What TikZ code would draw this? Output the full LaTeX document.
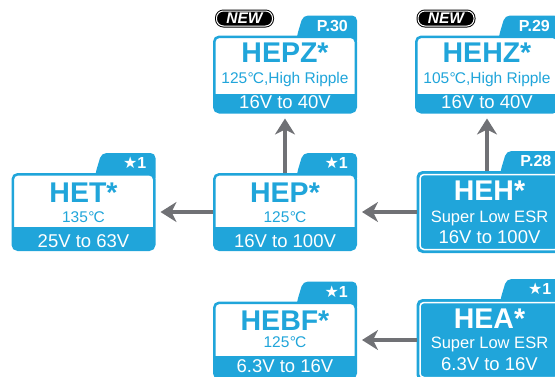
\documentclass[tikz,border=0pt]{standalone}
\usepackage{fontspec}
\setmainfont{Liberation Sans}
\newfontfamily\symf{DejaVu Sans}
\usetikzlibrary{arrows.meta,backgrounds}
\definecolor{hblue}{RGB}{32,165,218}
\definecolor{hgray}{RGB}{112,113,117}
\newcommand{\degC}{\kern0.3pt°\kern-0.8pt C}
\tikzstyle{card} = [rectangle, draw=hblue, line width=2.5pt, fill=white, rounded corners=5pt,
minimum width=141.5pt, minimum height=75.5pt, inner sep=0pt]
\tikzstyle{fcard} = [card, fill=hblue, minimum width=143.5pt, minimum height=79.5pt]
\tikzstyle{ttl} = [anchor=base, inner sep=0pt, text=hblue, font=\fontsize{28.5}{28.5}\selectfont\bfseries]
\tikzstyle{fttl} = [ttl, text=white]
\tikzstyle{subt} = [anchor=base, inner sep=0pt, text=hblue, font=\fontsize{15.5}{15.5}\selectfont]
\tikzstyle{fsubt} = [subt, text=white, font=\fontsize{16.5}{16.5}\selectfont]
\tikzstyle{volts} = [anchor=base, inner sep=0pt, text=white, font=\fontsize{18.5}{18.5}\selectfont]
\tikzstyle{tabtext} = [anchor=east, inner sep=0pt, text=white, font=\fontsize{16}{16}\selectfont\bfseries]
\tikzstyle{tabfill} = [fill=hblue, rounded corners=5pt]
\tikzstyle{bandfill} = [fill=hblue]
\tikzstyle{rim} = [draw=white, line width=1.5pt, rounded corners=4pt]
\tikzstyle{newbadge} = [rectangle, rounded corners=7pt, fill=black, draw=black, double=white,
double distance=1pt, line width=1pt, minimum width=56pt, minimum height=15pt, inner sep=0pt,
text=white, font=\fontsize{15.5}{15.5}\selectfont\bfseries\itshape]
\tikzstyle{line} = [draw=hgray, line width=4.5pt, -{Stealth[length=16pt,width=20pt,inset=5pt]}, shorten >=5pt]

\begin{document}
\begin{tikzpicture}[x=1pt,y=-1pt]
   \useasboundingbox (0,0) rectangle (555,376);

   % boxes
   \node[card]  (hepz) at (285,74.5) {};
   \node[card]  (hehz) at (487,74.5) {};
   \node[card]  (het)  at (83.5,212) {};
   \node[card]  (hep)  at (285,212) {};
   \node[fcard] (heh)  at (489.5,212) {};
   \node[card]  (hebf) at (285,340.5) {};
   \node[fcard] (hea)  at (489.5,340) {};

   % tabs behind the boxes
   \begin{scope}[on background layer]
   \fill[tabfill] ([xshift=-61pt,yshift=-10pt]hepz.north east) -- ++(1,-10) -- ++(6,-20) -- ++(54,0) -- ++(0,30) -- cycle;
   \fill[tabfill] ([xshift=-61pt,yshift=-10pt]hehz.north east) -- ++(1,-10) -- ++(6,-20) -- ++(54,0) -- ++(0,30) -- cycle;
   \fill[tabfill] ([xshift=-61pt,yshift=-10pt]het.north east) -- ++(1,-10) -- ++(6,-20) -- ++(54,0) -- ++(0,30) -- cycle;
   \fill[tabfill] ([xshift=-61pt,yshift=-10pt]hep.north east) -- ++(1,-10) -- ++(6,-20) -- ++(54,0) -- ++(0,30) -- cycle;
   \fill[tabfill] ([xshift=-63pt,yshift=-10pt]heh.north east) -- ++(1,-10) -- ++(6,-20) -- ++(56,0) -- ++(0,30) -- cycle;
   \fill[tabfill] ([xshift=-61pt,yshift=-10pt]hebf.north east) -- ++(1,-10) -- ++(6,-20) -- ++(54,0) -- ++(0,30) -- cycle;
   \fill[tabfill] ([xshift=-63pt,yshift=-10pt]hea.north east) -- ++(1,-10) -- ++(6,-20) -- ++(56,0) -- ++(0,30) -- cycle;
   \end{scope}

   % bands
   \fill[bandfill] ([shift={(2pt,2pt)}]hepz.south west) rectangle ([shift={(-2pt,19.5pt)}]hepz.south east);
   \fill[bandfill] ([shift={(2pt,2pt)}]hehz.south west) rectangle ([shift={(-2pt,19.5pt)}]hehz.south east);
   \fill[bandfill] ([shift={(2pt,2pt)}]het.south west) rectangle ([shift={(-2pt,24pt)}]het.south east);
   \fill[bandfill] ([shift={(2pt,2pt)}]hep.south west) rectangle ([shift={(-2pt,24pt)}]hep.south east);
   \fill[bandfill] ([shift={(2pt,2pt)}]hebf.south west) rectangle ([shift={(-2pt,23.5pt)}]hebf.south east);
   \draw[rim] ([shift={(3.5pt,3.5pt)}]heh.south west) rectangle ([shift={(-3.5pt,-3.5pt)}]heh.north east);
   \draw[rim] ([shift={(3.5pt,3.5pt)}]hea.south west) rectangle ([shift={(-3.5pt,-3.5pt)}]hea.north east);

   % texts
   \node[ttl]   (hepzName)  at ([yshift=-27pt]hepz.north) {HEPZ*};
   \node[subt]  (hepzTemp)  at ([yshift=-48pt]hepz.north) {125\degC,High Ripple};
   \node[volts] (hepzRange) at ([yshift=-72.5pt]hepz.north) {16V to 40V};
   \node[tabtext] (hepzTab) at ([xshift=-9pt,yshift=10pt]hepz.north east) {P.30};

   \node[ttl]   (hehzName)  at ([yshift=-27pt]hehz.north) {HEHZ*};
   \node[subt]  (hehzTemp)  at ([yshift=-48pt]hehz.north) {105\degC,High Ripple};
   \node[volts] (hehzRange) at ([yshift=-72.5pt]hehz.north) {16V to 40V};
   \node[tabtext] (hehzTab) at ([xshift=-9pt,yshift=10pt]hehz.north east) {P.29};

   \node[ttl]   (hetName)  at ([yshift=-29.5pt]het.north) {HET*};
   \node[subt]  (hetTemp)  at ([yshift=-49.5pt]het.north) {135\degC};
   \node[volts] (hetRange) at ([yshift=-74.5pt]het.north) {25V to 63V};
   \node[tabtext] (hetTab) at ([xshift=-9pt,yshift=10pt]het.north east) {{\symf ★}1};

   \node[ttl]   (hepName)  at ([yshift=-29.5pt]hep.north) {HEP*};
   \node[subt]  (hepTemp)  at ([yshift=-49.5pt]hep.north) {125\degC};
   \node[volts] (hepRange) at ([yshift=-74.5pt]hep.north) {16V to 100V};
   \node[tabtext] (hepTab) at ([xshift=-9pt,yshift=10pt]hep.north east) {{\symf ★}1};

   \node[fttl]  (hehName)  at ([yshift=-29.5pt]heh.north) {HEH*};
   \node[fsubt] (hehSpec)  at ([yshift=-51pt]heh.north) {Super Low ESR};
   \node[volts] (hehRange) at ([yshift=-72.5pt]heh.north) {16V to 100V};
   \node[tabtext] (hehTab) at ([xshift=-11pt,yshift=10pt]heh.north east) {P.28};

   \node[ttl]   (hebfName)  at ([yshift=-28.5pt]hebf.north) {HEBF*};
   \node[subt]  (hebfTemp)  at ([yshift=-45.5pt]hebf.north) {125\degC};
   \node[volts] (hebfRange) at ([yshift=-70.5pt]hebf.north) {6.3V to 16V};
   \node[tabtext] (hebfTab) at ([xshift=-9pt,yshift=10pt]hebf.north east) {{\symf ★}1};

   \node[fttl]  (heaName)  at ([yshift=-29.5pt]hea.north) {HEA*};
   \node[fsubt] (heaSpec)  at ([yshift=-49pt]hea.north) {Super Low ESR};
   \node[volts] (heaRange) at ([yshift=-71.5pt]hea.north) {6.3V to 16V};
   \node[tabtext] (heaTab) at ([xshift=-11pt,yshift=10pt]hea.north east) {{\symf ★}1};

   % new marks
   \node[newbadge] (hepzNew) at (244.5,18.5) {NEW};
   \node[newbadge] (hehzNew) at (446,18.5) {NEW};

   %% Lines
   \path[line] (hep) -- (hepz);
   \path[line] (heh.north -| hehz.south) -- (hehz.south);
   \path[line] (hep) -- (het);
   \path[line] (heh) -- (hep);
   \path[line] (hea.west) -- (hea.west -| hebf.east);

\end{tikzpicture}
\end{document}
